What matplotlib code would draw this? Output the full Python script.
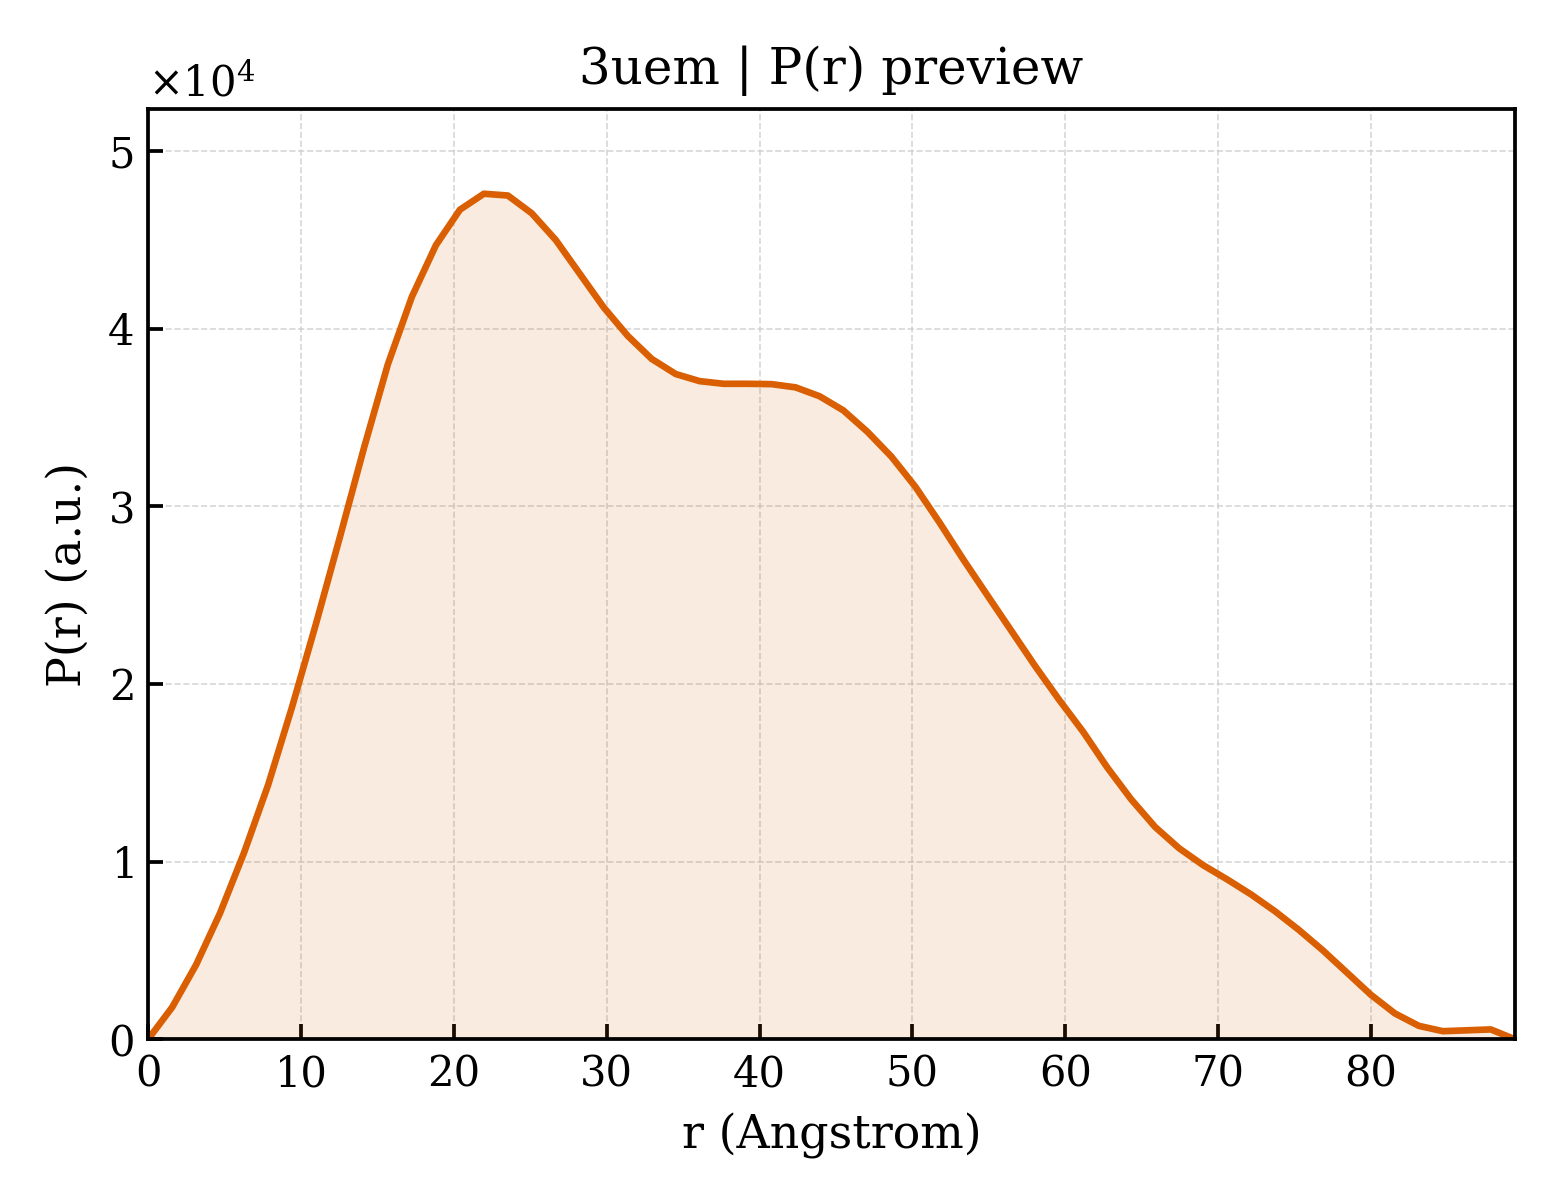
import numpy as np
import matplotlib
matplotlib.use("Agg")
import matplotlib.pyplot as plt
from matplotlib.ticker import ScalarFormatter

# Data (r in Angstrom, P(r) in a.u.)
r_values = [0.00, 1.57, 3.14, 4.70, 6.27, 7.84, 9.41, 10.98, 12.55, 14.12,
            15.68, 17.25, 18.82, 20.39, 21.96, 23.53, 25.09, 26.66, 28.23, 29.80,
            31.37, 32.94, 34.51, 36.07, 37.64, 39.21, 40.78, 42.35, 43.92, 45.48,
            47.05, 48.62, 50.19, 51.76, 53.33, 54.89, 56.46, 58.03, 59.60, 61.17,
            62.74, 64.31, 65.87, 67.44, 69.01, 70.58, 72.15, 73.72, 75.28, 76.85,
            78.42, 79.99, 81.56, 83.13, 84.70, 86.26, 87.83, 89.40]
pr_values = [0, 1800, 4200, 7100, 10500, 14300, 18700, 23400, 28300, 33300,
             38000, 41800, 44700, 46700, 47600, 47500, 46500, 45000, 43100, 41200,
             39600, 38300, 37450, 37050, 36900, 36900, 36880, 36700, 36200, 35400,
             34200, 32800, 31100, 29100, 27000, 25000, 23000, 21000, 19100, 17300,
             15300, 13500, 11950, 10750, 9800, 9000, 8150, 7200, 6150, 5000,
             3750, 2500, 1450, 750, 450, 500, 550, 0]

title_text = "3uem | P(r) preview"
x_label = "r (Angstrom)"
y_label = "P(r) (a.u.)"
line_color = "#d95f02"

plt.rcParams['font.family'] = ['DejaVu Serif']
plt.rcParams['mathtext.fontset'] = 'dejavuserif'

fig, ax = plt.subplots(figsize=(5.2, 4.0), dpi=300)
fig.subplots_adjust(left=0.095, right=0.971, top=0.909, bottom=0.134)

r = np.array(r_values)
pr = np.array(pr_values, dtype=float)

ax.fill_between(r, 0, pr, color=line_color, alpha=0.12, linewidth=0)
ax.plot(r, pr, color=line_color, linewidth=1.6)

ax.set_xlim(r.min(), r.max())
ax.set_ylim(0, pr.max() * 1.1)

ax.set_title(title_text, fontsize=12)
ax.set_xlabel(x_label, fontsize=11)
ax.set_ylabel(y_label, fontsize=11)

fmt = ScalarFormatter(useMathText=True)
fmt.set_powerlimits((0, 0))
ax.yaxis.set_major_formatter(fmt)
ax.yaxis.get_offset_text().set_fontsize(10)

ax.tick_params(direction='in', length=3.5, width=0.9, labelsize=10,
               top=False, right=False)
for s in ax.spines.values():
    s.set_linewidth(0.9)

ax.grid(True, linestyle='--', linewidth=0.4, color='#cccccc', alpha=0.8)
ax.set_axisbelow(True)

fig.savefig("out.png", dpi=300)
